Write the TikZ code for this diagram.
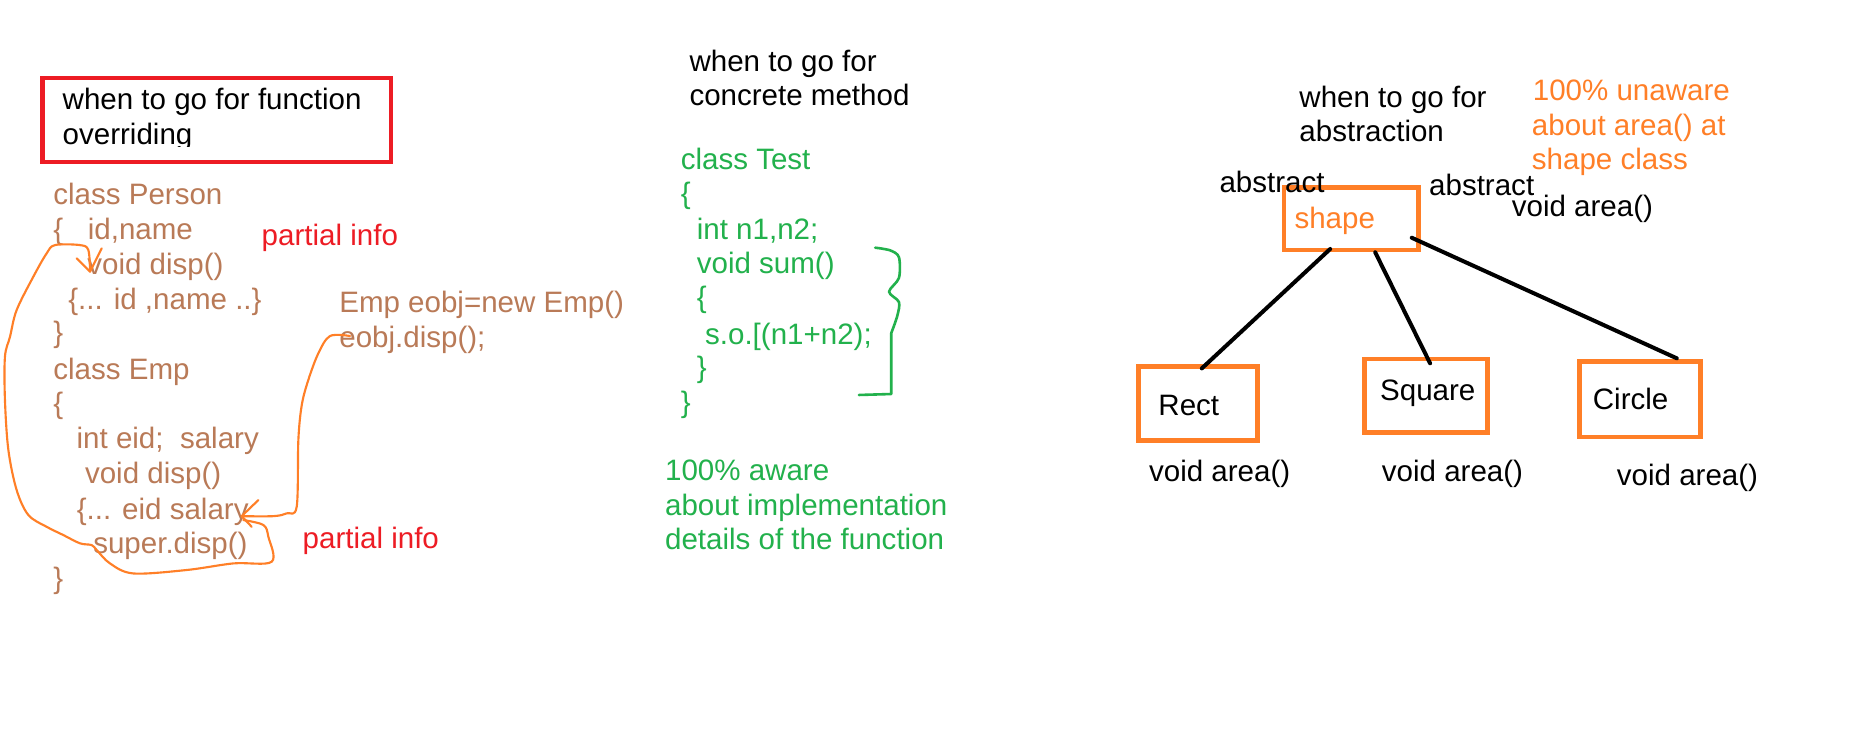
\documentclass[tikz,border=0pt]{standalone}
\usepackage{fontspec}
\setmainfont{Liberation Sans}
\definecolor{pbrown}{RGB}{185,122,87}
\definecolor{pred}{RGB}{237,28,36}
\definecolor{pgreen}{RGB}{34,177,76}
\definecolor{porange}{RGB}{255,127,39}
\begin{document}
\begin{tikzpicture}[x=1pt,y=-1pt,
  txt/.style={anchor=base west, inner sep=0pt, outer sep=0pt, font=\fontsize{25}{29.5}\selectfont},
  blk/.style={txt, text=black},
  brn/.style={txt, text=pbrown},
  rdt/.style={txt, text=pred},
  grn/.style={txt, text=pgreen},
  org/.style={txt, text=porange},
  obox/.style={draw=porange, line width=4pt, inner sep=0pt, outer sep=0pt},
  link/.style={draw=black, line width=3.4pt, line cap=round},
  hand/.style={draw=porange, line width=1.8pt, line cap=round, line join=round},
]
\useasboundingbox (0,0) rectangle (1568,629);
\fill[white] (0,0) rectangle (1568,629);

% ---------- left: function overriding ----------
\node[draw=pred, line width=4pt, inner sep=0pt, outer sep=0pt, minimum width=295.1pt, minimum height=71pt] (fobox) at (183.45,101.6) {};
\node[blk] (t1) at (53.1,93.1) {when to go for function};
\begin{scope}
  \clip (40,100) rectangle (330,124);
  \node[blk] (t2) at (53.1,122.2) {overriding};
\end{scope}

\node[brn] (c1) at (45.2,173) {class Person};
\node[brn] (c2) at (45.2,202.6) {\{\ \ \ id,name};
\node[brn] (c3) at (74,232) {void disp()};
\node[brn] (c4) at (57.9,262) {\{... id ,name ..\}};
\node[brn] (c5) at (45.2,290) {\}};
\node[brn] (c6) at (45.2,321.2) {class Emp};
\node[brn] (c7) at (45.2,350) {\{};
\node[brn] (c8) at (64.9,379.6) {int eid;\ \ salary};
\node[brn] (c9) at (72,409.2) {void disp()};
\node[brn] (c10) at (65,439.7) {\{... eid salary};
\node[brn] (c11) at (79,469) {super.disp()};
\node[brn] (c12) at (45.2,498) {\}};

\node[rdt] (p1) at (221.6,207.5) {partial info};
\node[rdt] (p2) at (256.3,464.8) {partial info};
\node[brn] (e1) at (287.3,264.7) {Emp eobj=new Emp()};
\node[brn] (e2) at (287.3,294) {eobj.disp();};

% big freehand loop: super.disp() -> Person.disp()
\draw[hand] plot[smooth, tension=0.55] coordinates {
  (206,440.3) (223,444.5) (227.2,454.4) (230,475.6) (197.6,477) (158,482.6)
  (112.9,485.5) (93.1,477) (81.9,465.7) (77.6,461.5) (67.7,460) (53.6,453)
  (39.5,446) (24,436) (14.1,414.9) (7.1,381) (4.2,338.7) (4.2,302) (8.5,285)
  (14.1,262.5) (28.2,234.3) (39.5,214.5) (46.6,207.5) (67.7,207.5) (74.8,211.7) (76.2,230)};
\draw[hand] (64.9,218.7) -- (76.2,230) -- (86.1,210.3);

% eobj.disp() -> Emp.disp()
\draw[hand] plot[smooth, tension=0.55] coordinates {
  (296.4,284.5) (279.4,284.5) (269.5,299.2) (261,321.8) (255.5,342.9)
  (252.6,372.6) (251.2,429) (242.8,434.6) (231.4,437) (204.6,437)};
\draw[hand] (218.7,423.4) -- (204.6,437) -- (213.1,446);

% ---------- middle: concrete method ----------
\node[blk] (m1) at (583.8,60.4) {when to go for};
\node[blk] (m2) at (583.8,89.5) {concrete method};
\node[grn] (g1) at (576.4,143.5) {class Test};
\node[grn] (g2) at (576.4,172.6) {\{};
\node[grn] (g3) at (590,202.4) {int n1,n2;};
\node[grn] (g4) at (590,231.5) {void sum()};
\node[grn] (g5) at (590,260.1) {\{};
\node[grn] (g6) at (597,291.6) {s.o.[(n1+n2);};
\node[grn] (g7) at (590,319.9) {\}};
\node[grn] (g8) at (576.4,349) {\}};
\node[grn] (a1) at (563.1,406.7) {100\% aware};
\node[grn] (a2) at (563.1,436.5) {about implementation};
\node[grn] (a3) at (563.1,465) {details of the function};
\draw[pgreen, line width=2.2pt, line join=round, line cap=round]
  plot[smooth, tension=0.5] coordinates {(741,209.7) (753.7,212) (761.1,217.8) (761.1,235.3)
  (752.7,247) (761.1,255.7) (759.7,267.4) (754.6,282)}
  -- (754.6,333.6) -- (727.2,334.4);

% ---------- right: abstraction ----------
\node[blk] (r1) at (1100.2,91.2) {when to go for};
\node[blk] (r2) at (1100.2,120) {abstraction};
\node[org] (u1) at (1297.8,84.7) {100\% unaware};
\node[org] (u2) at (1297,114.3) {about area() at};
\node[org] (u3) at (1297,143.4) {shape class};

\node[obox, minimum width=113.8pt, minimum height=53pt] (shape) at (1144.1,185.1) {};
\node[obox, minimum width=101.3pt, minimum height=62.6pt] (rect) at (1014.25,341.5) {};
\node[obox, minimum width=104.6pt, minimum height=62.3pt] (square) at (1207.3,335.15) {};
\node[obox, minimum width=102.7pt, minimum height=63.7pt] (circle) at (1388.35,338.15) {};

\node[blk] (ab1) at (1032.5,162.9) {abstract};
\node[blk] (ab2) at (1210,165.1) {abstract};
\node[blk] (va0) at (1280,183.5) {void area()};
\node[org] (sl) at (1096,193.3) {shape};
\node[blk] (rl) at (980.8,351.4) {Rect};
\node[blk] (sql) at (1168.5,339.5) {Square};
\node[blk] (cl) at (1348.6,346.3) {Circle};
\node[blk] (va1) at (972.9,407.8) {void area()};
\node[blk] (va2) at (1170,407.8) {void area()};
\node[blk] (va3) at (1369,410.7) {void area()};

\draw[link] ([xshift=-17.9pt,yshift=0.8pt]shape.south) -- ([xshift=3.25pt,yshift=-1.7pt]rect.north);
\draw[link] ([xshift=20.2pt,yshift=-2pt]shape.south) -- ([xshift=3.5pt,yshift=-3.6pt]square.north);
\draw[link] ([xshift=-5.7pt,yshift=10.3pt]shape.south east) -- ([xshift=31.35pt,yshift=2.9pt]circle.north);
\end{tikzpicture}
\end{document}
